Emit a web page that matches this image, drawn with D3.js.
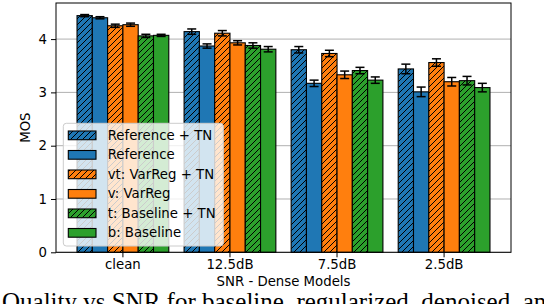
<!DOCTYPE html>
<html><head><meta charset="utf-8">
<script src="https://cdn.jsdelivr.net/npm/d3@7"></script>
<style>body{margin:0;background:#fff}svg{display:block}</style>
</head><body>
<script>
const categories = ["clean", "12.5dB", "7.5dB", "2.5dB"];
const seriesNames = ["Reference + TN", "Reference", "vt: VarReg + TN", "v: VarReg", "t: Baseline + TN", "b: Baseline"];
const refTN    = [4.44, 4.14, 3.80, 3.44];
const ref      = [4.40, 3.87, 3.17, 3.01];
const varRegTN = [4.25, 4.11, 3.73, 3.56];
const varReg   = [4.27, 3.93, 3.33, 3.20];
const baseTN   = [4.06, 3.88, 3.41, 3.22];
const base     = [4.07, 3.81, 3.23, 3.09];
const errRefTN    = [0.02, 0.05, 0.06, 0.09];
const errRef      = [0.02, 0.04, 0.06, 0.09];
const errVarRegTN = [0.03, 0.05, 0.06, 0.07];
const errVarReg   = [0.03, 0.04, 0.07, 0.08];
const errBaseTN   = [0.03, 0.05, 0.06, 0.08];
const errBase     = [0.02, 0.05, 0.06, 0.08];
const yTicks = [0, 1, 2, 3, 4];
const xLabel = "SNR - Dense Models";
const yLabel = "MOS";
const caption = "Quality vs SNR for baseline, regularized, denoised, and";

const values = [refTN, ref, varRegTN, varReg, baseTN, base];
const errors = [errRefTN, errRef, errVarRegTN, errVarReg, errBaseTN, errBase];
const colors = ["#1f77b4", "#1f77b4", "#ff7f0e", "#ff7f0e", "#2ca02c", "#2ca02c"];
const hatched = [true, false, true, false, true, false];

const W = 544, H = 304;
const L = 56, R = 511, T = 3, B = 252.3;
const font = "DejaVu Sans, sans-serif";

const svg = d3.select("body").append("svg").attr("width", W).attr("height", H);
const defs = svg.append("defs");
colors.forEach((c, i) => {
  if (!hatched[i]) return;
  const p = defs.append("pattern").attr("id", "h" + i).attr("patternUnits", "userSpaceOnUse")
    .attr("width", 6).attr("height", 6);
  p.append("rect").attr("width", 6).attr("height", 6).attr("fill", c);
  p.append("path").attr("d", "M-1,7 L7,-1 M-4,4 L4,-4 M2,10 L10,2")
    .attr("stroke", "#000").attr("stroke-width", 1);
});
const fillOf = i => hatched[i] ? `url(#h${i})` : colors[i];

const x0 = d3.scaleBand().domain(categories).range([L, R]).paddingInner(1/7).paddingOuter(0.1964);
const x1 = d3.scaleBand().domain(d3.range(seriesNames.length)).range([0, x0.bandwidth()]);
const y = d3.scaleLinear().domain([0, 4.677]).range([B, T]);

// grid
svg.append("g").selectAll("line").data(yTicks).join("line")
  .attr("x1", L).attr("x2", R).attr("y1", d => y(d)).attr("y2", d => y(d))
  .attr("stroke", "#b0b0b0").attr("stroke-width", 1);

// bars
const g = svg.append("g");
values.forEach((vals, s) => {
  g.append("g").selectAll("rect").data(categories).join("rect")
    .attr("x", (c) => x0(c) + x1(s))
    .attr("y", (c, j) => y(vals[j]))
    .attr("width", x1.bandwidth())
    .attr("height", (c, j) => y(0) - y(vals[j]))
    .attr("fill", fillOf(s)).attr("stroke", "#000").attr("stroke-width", 1.1);
});
// error bars
values.forEach((vals, s) => {
  const eg = g.append("g").attr("stroke", "#000").attr("stroke-width", 1.5);
  categories.forEach((c, j) => {
    const cx = x0(c) + x1(s) + x1.bandwidth() / 2;
    const v = vals[j], e = errors[s][j];
    eg.append("line").attr("x1", cx).attr("x2", cx).attr("y1", y(v - e)).attr("y2", y(v + e));
    eg.append("line").attr("x1", cx - 4.5).attr("x2", cx + 4.5).attr("y1", y(v - e)).attr("y2", y(v - e));
    eg.append("line").attr("x1", cx - 4.5).attr("x2", cx + 4.5).attr("y1", y(v + e)).attr("y2", y(v + e));
  });
});

// axes
const ya = svg.append("g").attr("transform", `translate(${L},0)`)
  .call(d3.axisLeft(y).tickValues(yTicks).tickSize(5).tickPadding(4).tickFormat(d3.format("d")));
const xa = svg.append("g").attr("transform", `translate(0,${B})`)
  .call(d3.axisBottom(x0).tickSize(5).tickPadding(2));
[ya, xa].forEach(a => {
  a.select(".domain").remove();
  a.selectAll("line").attr("stroke", "#000").attr("stroke-width", 1);
  a.selectAll("text").attr("font-family", font).attr("font-size", 13.3).attr("fill", "#000");
});
svg.append("rect").attr("x", L).attr("y", T).attr("width", R - L).attr("height", B - T)
  .attr("fill", "none").attr("stroke", "#000").attr("stroke-width", 1);

svg.append("text").attr("x", (L + R) / 2).attr("y", 286).attr("text-anchor", "middle")
  .attr("font-family", font).attr("font-size", 13.3).text(xLabel);
svg.append("text").attr("transform", `translate(30,${(T + B) / 2}) rotate(-90)`).attr("text-anchor", "middle")
  .attr("font-family", font).attr("font-size", 13.3).text(yLabel);

// legend
const lg = svg.append("g");
lg.append("rect").attr("x", 63.3).attr("y", 123.3).attr("width", 160).attr("height", 122.7)
  .attr("rx", 3).attr("fill", "#fff").attr("fill-opacity", 0.8).attr("stroke", "#ccc").attr("stroke-width", 1);
seriesNames.forEach((n, i) => {
  const ry = 131 + i * 19.5;
  lg.append("rect").attr("x", 68.3).attr("y", ry).attr("width", 27.7).attr("height", 8.7)
    .attr("fill", fillOf(i)).attr("stroke", "#000").attr("stroke-width", 1.1);
  lg.append("text").attr("x", 107.7).attr("y", ry + 8.9).attr("font-family", font).attr("font-size", 13.3).text(n);
});

svg.append("text").attr("x", 2).attr("y", 309.5).attr("font-family", "Liberation Serif, Times New Roman, serif")
  .attr("font-size", 25).text(caption);
</script>
</body></html>
